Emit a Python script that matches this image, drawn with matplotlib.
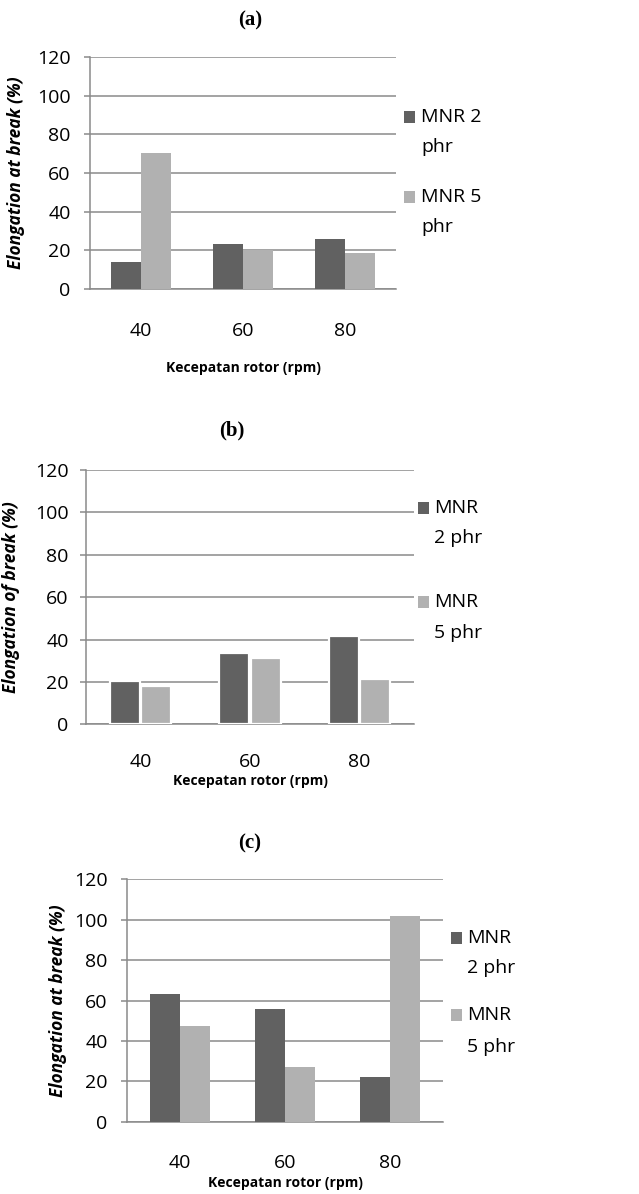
import matplotlib
matplotlib.use('Agg')
import matplotlib.pyplot as plt
from matplotlib.patches import Rectangle
import numpy as np

# ---------------- data ----------------
categories = ['40', '60', '80']
legend_a = ['MNR 2\nphr', 'MNR 5\nphr']
legend_bc = ['MNR\n2 phr', 'MNR\n5 phr']
a_mnr2 = [13.8, 23.2, 25.8]
a_mnr5 = [70.4, 20.2, 18.5]
b_mnr2 = [20.4, 33.6, 41.7]
b_mnr5 = [18.2, 31.3, 21.5]
c_mnr2 = [63.0, 55.8, 22.1]
c_mnr5 = [47.5, 26.9, 102.0]
yticks = [0, 20, 40, 60, 80, 100, 120]
titles = ['(a)', '(b)', '(c)']
xlabel_text = 'Kecepatan rotor (rpm)'
ylabels = ['Elongation at break (%)', 'Elongation of break (%)', 'Elongation at break (%)']

# ---------------- style ----------------
W, H = 639, 1194
DARK = '#616161'
LIGHT = '#b1b1b1'
GRID = '#8a8a8a'
SANS = ['Open Sans', 'DejaVu Sans']
SERIF = ['Liberation Serif', 'DejaVu Serif']

fig = plt.figure(figsize=(W / 100, H / 100), dpi=100)
fig.patch.set_facecolor('white')

panels = [
    dict(box=(90, 57.3, 396, 288.7), data=(a_mnr2, a_mnr5), legend=legend_a,
         width=0.29, off=0.145, edge=None, title=(250, 20), ylab_x=16,
         xlab_y=368, pad=9.5, xpad=24,
         leg=dict(sqx=404, text_x=421, lines=[(117, 147), (197, 227)])),
    dict(box=(86, 470, 414, 724.3), data=(b_mnr2, b_mnr5), legend=legend_bc,
         width=0.275, off=0.143, edge='white', title=(232, 430), ylab_x=11,
         xlab_y=781, pad=8, xpad=21,
         leg=dict(sqx=418, text_x=434, lines=[(508, 538), (602, 633)])),
    dict(box=(127, 879.3, 443, 1121.7), data=(c_mnr2, c_mnr5), legend=legend_bc,
         width=0.285, off=0.1425, edge=None, title=(250, 843), ylab_x=58,
         xlab_y=1183, pad=9.5, xpad=23,
         leg=dict(sqx=451, text_x=467, lines=[(938, 968), (1015, 1047)])),
]

for i, p in enumerate(panels):
    l, t, r, b = p['box']
    ax = fig.add_axes([l / W, 1 - b / H, (r - l) / W, (b - t) / H])
    x = np.arange(len(categories))
    s1, s2 = p['data']
    kw = {}
    if p['edge']:
        kw = dict(edgecolor=p['edge'], linewidth=1.6)
    bars1 = ax.bar(x - p['off'], s1, width=p['width'], color=DARK, zorder=3, **kw)
    bars2 = ax.bar(x + p['off'], s2, width=p['width'], color=LIGHT, zorder=3, **kw)
    ax.set_xlim(-0.5, len(categories) - 0.5)
    ax.set_ylim(0, 120)
    ax.set_yticks(yticks)
    ax.set_xticks(x)
    ax.set_xticklabels(categories)
    ax.grid(axis='y', color=GRID, linewidth=1.1, zorder=0)
    ax.set_axisbelow(True)
    for sp in ['top', 'right']:
        ax.spines[sp].set_visible(False)
    for sp in ['left', 'bottom']:
        ax.spines[sp].set_color(GRID)
        ax.spines[sp].set_linewidth(1.1)
    ax.tick_params(axis='y', length=4.5, width=1.1, color=GRID, pad=p['pad'],
                   labelsize=14, labelcolor='black')
    ax.tick_params(axis='x', length=0, pad=p['xpad'], labelsize=14, labelcolor='black')
    for lab in ax.get_xticklabels() + ax.get_yticklabels():
        lab.set_family(SANS)
    # axis labels
    ax.set_xlabel(xlabel_text, family=SANS, fontsize=10, fontweight='bold', va='center')
    ax.xaxis.set_label_coords(0.5, -(p['xlab_y'] - b) / (b - t))
    ax.set_ylabel(ylabels[i], family=SANS, fontsize=12.5, fontweight='bold',
                  style='italic', va='center')
    ax.yaxis.set_label_coords((p['ylab_x'] - l) / (r - l), 0.5)
    # title
    tx, ty = p['title']
    fig.text(tx / W, 1 - ty / H, titles[i], family=SERIF, fontsize=15,
             fontweight='bold', ha='center', va='center')
    # legend
    lg = p['leg']
    for k, (bar, name) in enumerate(zip([bars1[0], bars2[0]], p['legend'])):
        y1, y2 = lg['lines'][k]
        fig.add_artist(Rectangle((lg['sqx'] / W, 1 - (y1 + 6) / H), 11 / W, 12 / H,
                                 transform=fig.transFigure, facecolor=bar.get_facecolor(),
                                 edgecolor='none'))
        for line, yy in zip(name.split('\n'), (y1, y2)):
            fig.text(lg['text_x'] / W, 1 - yy / H, line, family=SANS, fontsize=14,
                     ha='left', va='center')

fig.savefig('out.png', dpi=100, facecolor='white')
